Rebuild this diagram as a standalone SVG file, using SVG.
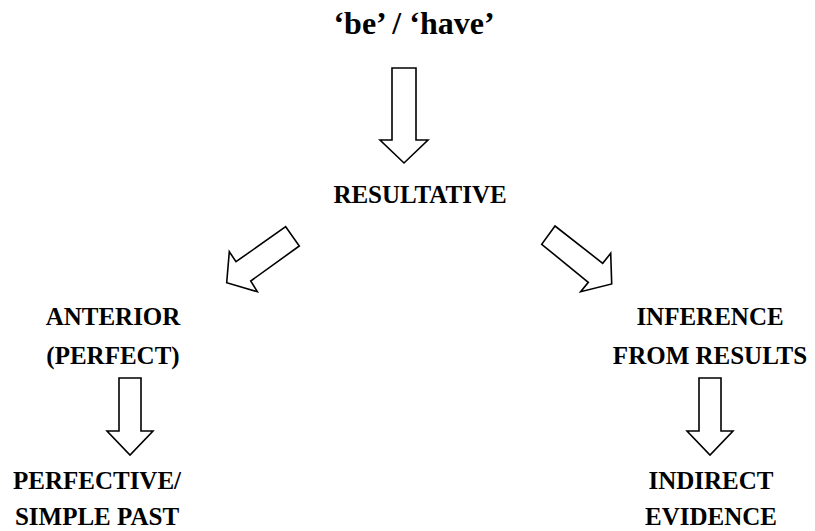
<svg xmlns="http://www.w3.org/2000/svg" width="815" height="531" viewBox="0 0 815 531">
<style>
.t{font-family:"Liberation Serif","Times New Roman",serif;font-weight:bold;fill:#000;text-anchor:middle}
.a{fill:#fff;stroke:#000;stroke-width:1.6;stroke-linejoin:miter}
</style>
<rect width="815" height="531" fill="#fff"/>
<g id="connectors">
<polygon class="a" points="392,68 416,68 416,140 428,140 404,163 380,140 392,140"/>
<polygon class="a" points="285.7,226.7 299.3,246 250.7,281 257.3,291.7 226.7,282.7 229.3,251.7 236,261.7"/>
<polygon class="a" points="555,226 541.7,244.3 588.3,282.3 580.7,291.7 611.7,284 610.7,253.3 602.7,263.3"/>
<polygon class="a" points="119,378 141,378 141,431 153,431 130,455 107,431 119,431"/>
<polygon class="a" points="699,378 721,378 721,431 733,431 710,455 687,431 699,431"/>
</g>
<g id="be-have"><text class="t" x="414" y="34" font-size="32">‘be’ / ‘have’</text></g>
<g id="resultative"><text class="t" x="420" y="203" font-size="25">RESULTATIVE</text></g>
<g id="anterior"><text class="t" x="113" y="325" font-size="25">ANTERIOR</text><text class="t" x="113" y="364" font-size="25">(PERFECT)</text></g>
<g id="inference"><text class="t" x="710" y="325" font-size="25">INFERENCE</text><text class="t" x="710" y="364" font-size="25">FROM RESULTS</text></g>
<g id="perfective"><text class="t" x="97" y="489" font-size="25">PERFECTIVE/</text><text class="t" x="97" y="525" font-size="25">SIMPLE PAST</text></g>
<g id="indirect"><text class="t" x="711" y="489" font-size="25">INDIRECT</text><text class="t" x="711" y="525" font-size="25">EVIDENCE</text></g>
</svg>
